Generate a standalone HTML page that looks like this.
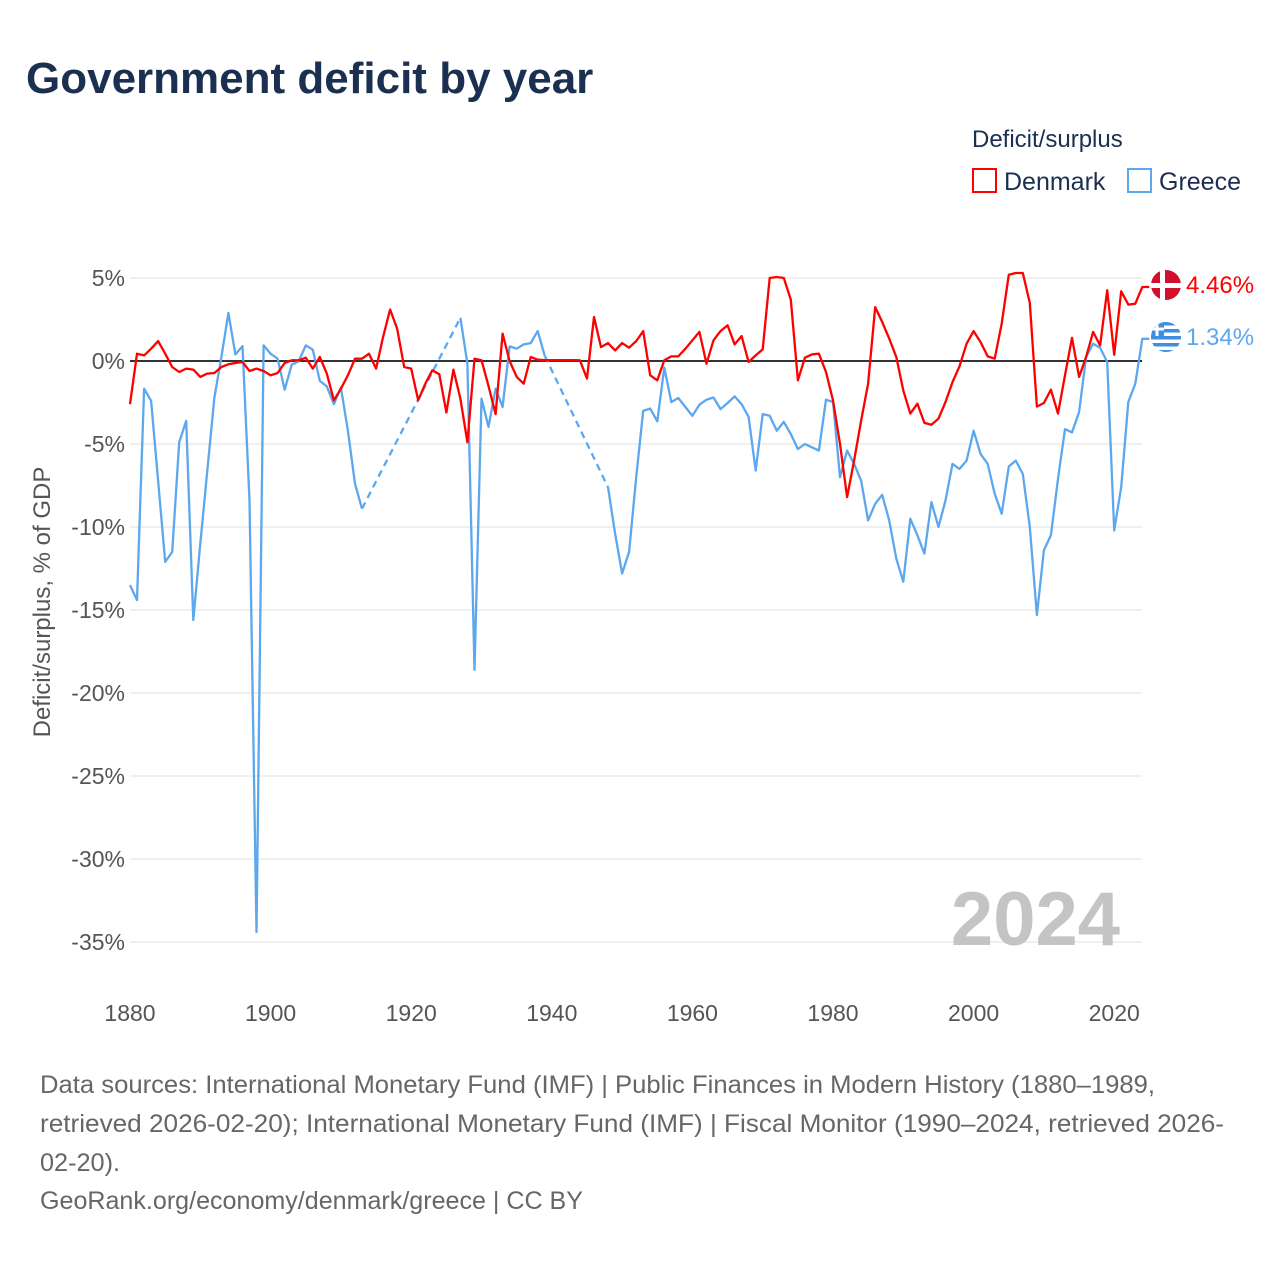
<!DOCTYPE html>
<html><head><meta charset="utf-8">
<style>
body{margin:0;background:#fff;font-family:"Liberation Sans",sans-serif;}
#wrap{position:relative;width:1280px;height:1280px;overflow:hidden;}
</style></head>
<body>
<div id="wrap">
<svg id="chart" width="1280" height="1280" xmlns="http://www.w3.org/2000/svg">
  <text x="26" y="93" font-size="44" font-weight="bold" fill="#1b3050" font-family="Liberation Sans, sans-serif">Government deficit by year</text>
  <text x="972" y="147" font-size="24" fill="#1b3050">Deficit/surplus</text>
  <g>
    <rect x="973" y="169" width="23" height="23" fill="none" stroke="#ff0000" stroke-width="2"/>
    <text x="1004" y="190" font-size="25" fill="#1b3050">Denmark</text>
  </g>
  <g>
    <rect x="1128" y="169" width="23" height="23" fill="none" stroke="#5ca7ee" stroke-width="2"/>
    <text x="1159" y="190" font-size="25" fill="#1b3050">Greece</text>
  </g>
  <g id="grid"></g>
  <g id="yticks"></g>
  <g id="xticks"></g>
  <text x="0" y="0" transform="translate(50,602) rotate(-90)" text-anchor="middle" font-size="24" fill="#555">Deficit/surplus, % of GDP</text>
  <text x="1120" y="945" text-anchor="end" font-size="76" font-weight="bold" fill="#c4c4c4">2024</text>
  <g id="series"></g>
  <g>
    <circle cx="1166" cy="285" r="15" fill="#d2102e"/>
    <rect x="1160" y="270" width="5" height="30" fill="#fff"/>
    <rect x="1151" y="283" width="30" height="5" fill="#fff"/>
    <text x="1186" y="293" font-size="24" fill="#ff0000">4.46%</text>
  </g>
  <g>
    <clipPath id="gc"><circle cx="1166" cy="337" r="15"/></clipPath>
    <g clip-path="url(#gc)">
      <rect x="1150" y="322" width="32" height="30" fill="#fff"/>
      <rect x="1150" y="322" width="32" height="3.5" fill="#3f8ee0"/>
      <rect x="1150" y="329" width="32" height="3.5" fill="#3f8ee0"/>
      <rect x="1150" y="336" width="32" height="3.5" fill="#3f8ee0"/>
      <rect x="1150" y="343" width="32" height="3.5" fill="#3f8ee0"/>
      <rect x="1150" y="350" width="32" height="3.5" fill="#3f8ee0"/>
      <rect x="1150" y="322" width="14" height="14" fill="#3f8ee0"/>
      <rect x="1155.5" y="322" width="3" height="14" fill="#fff"/>
      <rect x="1150" y="327.5" width="14" height="3" fill="#fff"/>
    </g>
    <text x="1186" y="345" font-size="24" fill="#5ca7ee">1.34%</text>
  </g>
  <g font-size="25" fill="#666">
    <text x="40" y="1093" textLength="1115" lengthAdjust="spacingAndGlyphs">Data sources: International Monetary Fund (IMF) | Public Finances in Modern History (1880–1989,</text>
    <text x="40" y="1132" textLength="1184" lengthAdjust="spacingAndGlyphs">retrieved 2026-02-20); International Monetary Fund (IMF) | Fiscal Monitor (1990–2024, retrieved 2026-</text>
    <text x="40" y="1171" textLength="80" lengthAdjust="spacingAndGlyphs">02-20).</text>
    <text x="40" y="1209" textLength="543" lengthAdjust="spacingAndGlyphs">GeoRank.org/economy/denmark/greece | CC BY</text>
  </g>
</svg>
</div>
<script>
const startYear = 1880;
const yTickValues = [5,0,-5,-10,-15,-20,-25,-30,-35];
const yTickLabels = ["5%","0%","-5%","-10%","-15%","-20%","-25%","-30%","-35%"];
const xTickValues = [1880,1900,1920,1940,1960,1980,2000,2020];
const denmark = [-2.6,0.44,0.34,0.74,1.2,0.44,-0.36,-0.66,-0.46,-0.52,
-0.96,-0.76,-0.72,-0.36,-0.2,-0.12,-0.06,-0.6,-0.46,-0.6,
-0.86,-0.72,-0.12,0.04,0.04,0.2,-0.46,0.24,-0.76,-2.37,
-1.67,-0.86,0.14,0.14,0.44,-0.46,1.45,3.1,1.95,-0.36,
-0.46,-2.37,-1.37,-0.56,-0.8,-3.1,-0.52,-2.27,-4.9,0.14,
0.04,-1.5,-3.2,1.65,0.0,-0.96,-1.37,0.24,0.08,0.05,
0.05,0.05,0.05,0.05,0.04,-1.06,2.65,0.84,1.08,0.64,
1.08,0.8,1.2,1.8,-0.86,-1.16,0.04,0.28,0.28,0.74,
1.25,1.75,-0.16,1.25,1.8,2.15,1.0,1.5,-0.06,0.34,
0.7,5.0,5.06,5.0,3.7,-1.16,0.2,0.4,0.44,-0.66,
-2.37,-5.0,-8.2,-6.0,-3.6,-1.37,3.25,2.35,1.35,0.24,
-1.77,-3.17,-2.57,-3.73,-3.84,-3.47,-2.47,-1.27,-0.32,1.04,
1.8,1.14,0.28,0.14,2.25,5.2,5.3,5.3,3.5,-2.75,
-2.53,-1.73,-3.17,-0.86,1.4,-0.96,0.24,1.75,0.94,4.26,
0.38,4.2,3.4,3.45,4.46];
const greece = [-13.5,-14.4,-1.67,-2.4,-7.2,-12.1,-11.5,-4.9,-3.6,-15.6,
-11,-6.6,-2.2,0.24,2.9,0.4,0.9,-8.4,-34.4,0.94,
0.44,0.14,-1.73,-0.22,-0.02,0.94,0.68,-1.2,-1.53,-2.6,
-1.6,-4.2,-7.4,-8.9,null,null,null,null,null,null,
null,null,null,null,null,null,null,2.6,-0.16,-18.6,
-2.27,-3.97,-1.67,-2.77,0.88,0.74,1.0,1.08,1.8,0.3,
null,null,null,null,null,null,null,null,-7.6,-10.4,
-12.8,-11.5,-7.0,-3.0,-2.87,-3.63,-0.4,-2.47,-2.23,-2.77,
-3.3,-2.63,-2.33,-2.2,-2.9,-2.53,-2.13,-2.6,-3.37,-6.6,
-3.2,-3.3,-4.2,-3.67,-4.4,-5.3,-5.0,-5.2,-5.4,-2.33,
-2.47,-7.0,-5.4,-6.2,-7.2,-9.6,-8.6,-8.06,-9.6,-11.9,
-13.3,-9.5,-10.5,-11.6,-8.5,-10.0,-8.4,-6.2,-6.5,-6.0,
-4.2,-5.6,-6.2,-8.0,-9.2,-6.35,-6.0,-6.8,-10.0,-15.3,
-11.4,-10.5,-7.1,-4.1,-4.3,-3.07,0.24,1.04,0.8,-0.06,
-10.2,-7.6,-2.47,-1.37,1.34];

const NS = "http://www.w3.org/2000/svg";
function xScale(year){ return 130 + (year - 1880) * 7.03; }
function yScale(v){ return 361 - v * 16.6; }
const grid = document.getElementById('grid');
const yt = document.getElementById('yticks');
const xt = document.getElementById('xticks');
yTickValues.forEach((v,i)=>{
  const l = document.createElementNS(NS,'line');
  
  
  l.setAttribute('x1',130); l.setAttribute('x2',1142);
  l.setAttribute('y1',yScale(v)); l.setAttribute('y2',yScale(v));
  l.setAttribute('stroke','#e6e6e6'); l.setAttribute('stroke-width','1.3');
  grid.appendChild(l);
  const t = document.createElementNS(NS,'text');
  
  
  t.setAttribute('x',125); t.setAttribute('y',yScale(v)+8);
  t.setAttribute('text-anchor','end'); t.setAttribute('font-size','23'); t.setAttribute('fill','#555');
  t.textContent = yTickLabels[i];
  yt.appendChild(t);
});
xTickValues.forEach(v=>{
  const t = document.createElementNS(NS,'text');
  
  
  t.setAttribute('x',xScale(v)); t.setAttribute('y',1021);
  t.setAttribute('text-anchor','middle'); t.setAttribute('font-size','23'); t.setAttribute('fill','#555');
  t.textContent = v;
  xt.appendChild(t);
});
const zl = document.createElementNS(NS,'line');


zl.setAttribute('x1',130); zl.setAttribute('x2',1142);
zl.setAttribute('y1',yScale(0)); zl.setAttribute('y2',yScale(0));
zl.setAttribute('stroke','#333'); zl.setAttribute('stroke-width','2');
grid.appendChild(zl);

const series = document.getElementById('series');
function drawSeries(data, color, name){
  let solid = ''; let dashed = ''; let prev = null;
  data.forEach((v,i)=>{
    if(v === null) return;
    const x = xScale(startYear + i), y = yScale(v);
    if(prev && prev.i === i-1){ solid += ' L' + x.toFixed(1) + ' ' + y.toFixed(1); }
    else {
      if(prev){ dashed += ' M' + prev.x.toFixed(1) + ' ' + prev.y.toFixed(1) + ' L' + x.toFixed(1) + ' ' + y.toFixed(1); }
      solid += ' M' + x.toFixed(1) + ' ' + y.toFixed(1);
    }
    prev = {i:i,x:x,y:y};
  });
  solid += ' L' + (prev.x + 7).toFixed(1) + ' ' + prev.y.toFixed(1);
  const p = document.createElementNS(NS,'path');
  
  
  p.setAttribute('d', solid); p.setAttribute('fill','none'); p.setAttribute('stroke',color);
  p.setAttribute('stroke-width','2.3'); p.setAttribute('stroke-linejoin','round');
  series.appendChild(p);
  if(dashed){
    const d = document.createElementNS(NS,'path');
    
    
    d.setAttribute('d', dashed); d.setAttribute('fill','none'); d.setAttribute('stroke',color);
    d.setAttribute('stroke-width','2.3'); d.setAttribute('stroke-dasharray','7 5');
    series.appendChild(d);
  }
}
drawSeries(greece, '#5ca7ee', 'greece');
drawSeries(denmark, '#ff0000', 'denmark');
</script>
</body></html>
